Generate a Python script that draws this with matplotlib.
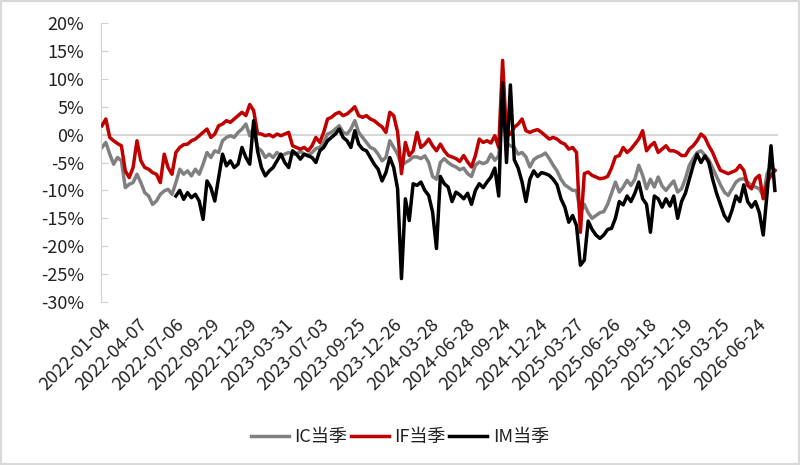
import numpy as np
import matplotlib.pyplot as plt
from matplotlib.transforms import ScaledTranslation
from matplotlib.patches import Rectangle

plt.rcParams['font.family'] = ['Noto Sans CJK SC', 'DejaVu Sans']

# 数据：约每6个交易日取一个点（%）
ic = [-2.3, -1.4, -3.5, -5.3, -4.1, -4.7, -9.5, -8.9, -8.6, -7.1,
      -8.6, -10.4, -11.0, -12.5, -11.9, -10.7, -10.1, -9.8, -10.7, -8.6,
      -6.2, -7.1, -6.5, -7.4, -6.2, -7.1, -5.3, -3.2, -4.1, -2.9,
      -3.2, -1.1, -0.5, -0.2, -0.5, 0.4, 1.0, 1.9, -0.2, 1.3,
      -2.3, -2.9, -4.1, -3.5, -4.1, -3.2, -3.8, -3.5, -3.2, -3.5,
      -3.5, -3.0, -3.5, -3.8, -3.2, -2.5, -2.3, -1.4, 0.1, 0.4,
      1.0, 1.6, 0.4, 0.1, 1.0, 2.5, 0.4, -0.5, -1.4, -2.3,
      -2.6, -3.5, -4.7, -4.1, -1.1, -2.3, -3.5, -5.5, -5.0, -4.6,
      -4.0, -4.0, -4.3, -3.8, -5.0, -7.5, -8.0, -5.0, -4.3, -5.0,
      -5.5, -5.8, -6.3, -6.0, -7.0, -7.5, -5.5, -4.9, -5.2, -4.9,
      -3.5, -4.6, -3.8, 5.0, -1.5, -2.0, -2.3, -3.5, -3.2, -4.0,
      -5.8, -4.5, -4.0, -3.75, -3.3, -4.3, -5.5, -6.5, -8.0, -9.0,
      -9.5, -10.0, -10.0, -14.0, -12.5, -14.0, -15.0, -14.5, -14.0, -13.8,
      -12.5, -10.5, -8.5, -10.3, -9.4, -8.2, -9.1, -8.0, -5.5, -7.3,
      -9.7, -8.0, -9.4, -7.6, -9.2, -10.0, -9.1, -8.3, -10.3, -9.7,
      -7.9, -5.5, -4.3, -3.2, -2.9, -3.7, -4.5, -6.0, -7.5, -9.0,
      -10.3, -10.9, -9.7, -8.5, -8.0, -7.9, -8.5, -9.1, -9.4, -9.7,
      -11.0, -7.0, -5.5, -6.5]

if_ = [1.6, 2.8, -0.5, -1.1, -1.6, -2.0, -6.5, -7.7, -5.9, -1.1,
       -4.7, -5.9, -6.2, -6.8, -7.1, -8.6, -3.5, -5.9, -7.1, -3.2,
       -2.3, -1.8, -1.7, -1.1, -0.8, -0.2, 0.4, 1.0, -0.5, 0.1,
       1.6, 1.9, 2.5, 2.2, 2.8, 3.4, 4.0, 3.4, 5.4, 4.3,
       0.2, 0.1, -0.2, 0.0, -0.4, 0.1, -0.2, 0.1, 0.4, -2.0,
       -2.3, -2.6, -2.3, -2.9, -2.0, -0.5, -1.4, 0.4, 2.8, 3.1,
       3.7, 4.0, 3.4, 3.7, 4.3, 5.0, 3.4, 3.1, 3.4, 2.8,
       2.5, 1.9, 1.4, 0.4, 4.0, 3.4, 0.5, -7.0, -1.4, -3.75,
       -2.9, 0.4, -2.3, -1.7, -0.8, -2.0, -2.9, -1.7, -2.9, -3.75,
       -4.0, -4.3, -4.8, -3.75, -4.9, -5.8, -3.75, -0.8, -1.4, -1.1,
       -1.5, -0.2, -2.3, 13.3, -0.2, 0.1, 1.3, 1.9, 2.8, 0.7,
       0.4, 0.7, 0.9, 0.4, -0.2, -0.8, -0.5, -0.8, -1.4, -1.7,
       -2.6, -2.3, -3.2, -17.5, -7.0, -6.7, -7.3, -7.6, -7.9, -7.8,
       -7.5, -6.0, -4.0, -3.75, -2.3, -3.2, -2.6, -1.7, -0.8, 0.7,
       -2.9, -2.0, -1.4, -3.2, -2.6, -2.0, -2.9, -2.9, -3.2, -3.75,
       -3.75, -2.6, -2.0, -1.1, 0.1, -0.5, -2.0, -3.2, -4.9, -6.4,
       -6.7, -7.0, -6.7, -6.4, -5.5, -6.4, -9.1, -9.7, -7.9, -7.3,
       -11.5, -8.5, -7.3, -6.4]

# IM 于2022年7月才上市，前面为空
im = [np.nan] * 19 + [
      -11.0, -10.0, -11.6, -10.4, -11.3, -10.7, -11.9, -15.2, -8.3, -9.5,
      -11.9, -7.7, -3.5, -5.6, -4.7, -5.9, -5.3, -2.3, -4.1, -5.3,
      2.5, -2.9, -5.9, -7.4, -6.5, -5.9, -4.7, -3.5, -5.0, -5.9,
      -2.9, -3.5, -4.4, -3.5, -3.8, -4.1, -5.0, -2.9, -2.3, -1.1,
      -0.5, 0.1, 1.0, -0.5, -1.1, -2.3, 0.7, -1.7, -2.6, -2.9,
      -4.1, -5.3, -6.2, -8.3, -6.8, -4.1, -5.9, -9.7, -25.8, -11.5,
      -15.4, -8.8, -9.1, -8.5, -10.0, -10.9, -13.9, -20.4, -7.5, -8.8,
      -9.4, -12.0, -10.3, -10.8, -11.5, -10.5, -12.5, -10.0, -8.8, -9.5,
      -8.5, -7.6, -6.0, -11.0, 9.3, -5.0, 8.9, -4.5, -6.0, -8.5,
      -12.0, -8.0, -6.5, -7.5, -6.8, -7.0, -7.3, -8.0, -9.0, -11.5,
      -13.0, -15.7, -14.5, -16.3, -23.4, -22.5, -15.5, -17.0, -18.0, -18.6,
      -18.0, -17.0, -16.8, -15.0, -12.0, -12.6, -11.0, -12.0, -10.5, -8.5,
      -11.5, -12.5, -17.5, -11.0, -11.5, -13.0, -11.5, -12.8, -11.0, -15.0,
      -12.0, -10.5, -8.0, -5.5, -3.5, -5.0, -3.8, -5.0, -8.0, -10.5,
      -12.5, -14.5, -15.5, -13.5, -11.0, -12.0, -9.0, -12.0, -13.0, -12.0,
      -14.0, -18.0, -10.5, -2.0, -10.0]

date_labels = ['2022-01-04', '2022-04-07', '2022-07-06', '2022-09-29', '2022-12-29',
               '2023-03-31', '2023-07-03', '2023-09-25', '2023-12-26', '2024-03-28',
               '2024-06-28', '2024-09-24', '2024-12-24', '2025-03-27', '2025-06-26',
               '2025-09-18', '2025-12-19', '2026-03-25', '2026-06-24']
label_every = 9.36  # 图中每个日期标签间隔对应的取样点数

x = np.arange(len(ic))

fig = plt.figure(figsize=(8, 4.65), dpi=100)
ax = fig.add_axes([0.126, 0.3505, 0.8465, 0.6])

ax.axhline(0, color='#d0d0d0', linewidth=1.2, zorder=1)
ax.plot(x, np.array(ic) / 100, color='#808080', linewidth=2.5, label='IC当季', zorder=2)
ax.plot(x, np.array(if_) / 100, color='#c00000', linewidth=2.5, label='IF当季', zorder=3)
ax.plot(x, np.array(im) / 100, color='#000000', linewidth=2.5, label='IM当季', zorder=4)

ax.set_ylim(-0.30, 0.20)
ax.set_yticks(np.arange(-0.30, 0.201, 0.05))
ax.set_yticklabels([f'{round(v * 100)}%' for v in np.arange(-0.30, 0.201, 0.05)])
ax.set_xlim(-0.3, len(ic) - 0.2)
ax.set_xticks(np.arange(len(date_labels)) * label_every)
ax.set_xticklabels(date_labels, rotation=45, ha='right', va='top', rotation_mode='anchor')

offset = ScaledTranslation(6 / 72, 0, fig.dpi_scale_trans)
for lab in ax.get_xticklabels():
    lab.set_transform(lab.get_transform() + offset)

for s in ['top', 'right', 'bottom']:
    ax.spines[s].set_visible(False)
ax.spines['left'].set_color('#d0d0d0')
ax.tick_params(axis='y', direction='in', length=5, color='#d0d0d0', pad=12,
               labelsize=13, labelcolor='#222222')
ax.tick_params(axis='x', length=0, pad=10, labelsize=13, labelcolor='#222222')

leg = fig.legend(loc='center', bbox_to_anchor=(0.5, 0.06), ncol=3, frameon=False,
                 fontsize=13, handlelength=2.1, handletextpad=0.3, columnspacing=0.2)
for t in leg.get_texts():
    t.set_color('#222222')

fig.patches.append(Rectangle((0, 0), 1, 1, transform=fig.transFigure, fill=False,
                             edgecolor='#d9d9d9', linewidth=3))

fig.savefig('out.png', dpi=100)
